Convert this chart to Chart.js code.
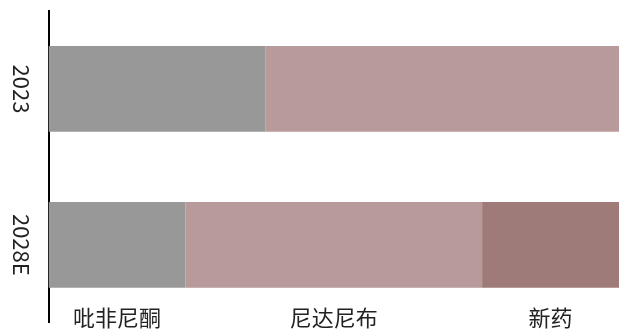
<!DOCTYPE html>
<html>
<head>
<meta charset="utf-8">
<script src="https://cdn.jsdelivr.net/npm/chart.js@4/dist/chart.umd.min.js"></script>
<style>
html,body{margin:0;padding:0;background:#fff;}
#wrap{width:619px;height:332px;position:relative;}
</style>
</head>
<body>
<div id="wrap"><canvas id="c" width="619" height="332"></canvas></div>
<script>
const categories = ["2023", "2028E"];
const seriesNames = ["吡非尼酮", "尼达尼布", "新药"];
const pirfenidone = [38, 24];
const nintedanib = [62, 52];
const newDrug = [0, 24];
const colors = ["#989898", "#b79a99", "#9e7a79"];

const segmentLabels = {
  id: 'segmentLabels',
  afterDatasetsDraw(chart) {
    const ctx = chart.ctx;
    ctx.save();
    ctx.font = '22px "Noto Sans CJK SC"';
    ctx.fillStyle = '#222';
    ctx.textAlign = 'center';
    ctx.textBaseline = 'middle';
    chart.data.datasets.forEach((ds, i) => {
      const el = chart.getDatasetMeta(i).data[1];
      const cx = (el.x + el.base) / 2;
      ctx.fillText(ds.label, cx, chart.chartArea.bottom - 5);
    });
    ctx.restore();
  }
};

new Chart(document.getElementById('c'), {
  type: 'bar',
  data: {
    labels: categories,
    datasets: [
      { label: seriesNames[0], data: pirfenidone, backgroundColor: colors[0] },
      { label: seriesNames[1], data: nintedanib, backgroundColor: colors[1] },
      { label: seriesNames[2], data: newDrug, backgroundColor: colors[2] }
    ]
  },
  options: {
    indexAxis: 'y',
    responsive: false,
    animation: false,
    layout: { padding: { top: 11, bottom: 9, left: 0, right: 0 } },
    datasets: { bar: { categoryPercentage: 0.55, barPercentage: 1, borderWidth: 0 } },
    plugins: { legend: { display: false }, tooltip: { enabled: false } },
    scales: {
      x: { stacked: true, min: 0, max: 100, display: false },
      y: {
        stacked: true,
        grid: { display: false, drawTicks: false },
        border: { display: true, color: '#000', width: 2 },
        ticks: {
          minRotation: -90, maxRotation: -90,
          crossAlign: 'center',
          padding: -4,
          color: '#222',
          font: { family: '"Noto Sans CJK SC"', size: 22 }
        },
        afterFit(scale) { scale.width = 48.5; }
      }
    }
  },
  plugins: [segmentLabels]
});
</script>
</body>
</html>
